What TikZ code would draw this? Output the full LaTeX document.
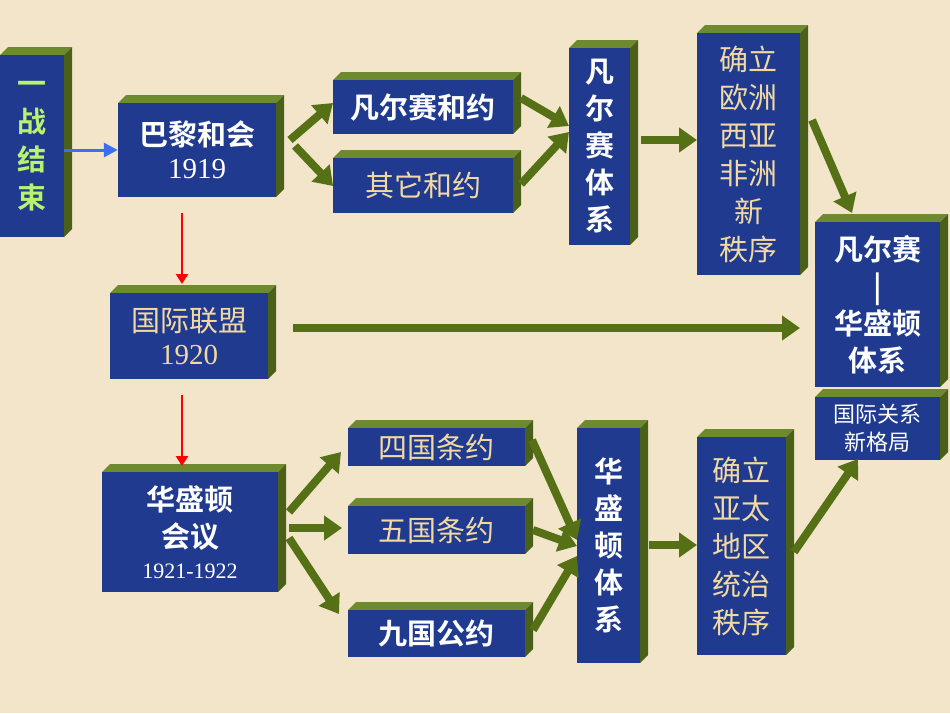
\documentclass[tikz,border=0pt]{standalone}
\usepackage{fontspec}
\newfontfamily\cjk{Noto Sans CJK SC}
\newfontfamily\cjkb{Noto Sans CJK SC}[BoldFont={* Bold}]
\newfontfamily\num{Liberation Serif}
\usetikzlibrary{arrows.meta}
\definecolor{bg}{HTML}{F2E5CA}
\definecolor{bl}{HTML}{1F3A8F}
\definecolor{tg}{HTML}{6E8A2E}
\definecolor{sg}{HTML}{4A5F18}
\definecolor{ga}{HTML}{557015}
\definecolor{tan}{HTML}{F2D9A2}
\definecolor{lg}{HTML}{B9F26E}
\tikzset{x=1pt,y=-1pt,
 box/.style={fill=bl,inner sep=0pt,align=center},
 wt/.style={text=white,font=\cjkb\bfseries\fontsize{29}{37}\selectfont},
 tt/.style={text=tan,font=\cjk\fontsize{29}{37}\selectfont},
 garr/.style={draw=ga,line width=8pt,-{Triangle[length=18pt,width=24pt]}},
 rarr/.style={draw=red,line width=2.5pt,-{Triangle[length=10pt,width=12pt]}},
 barr/.style={draw={rgb,255:red,60;green,110;blue,240},line width=3pt,-{Triangle[length=14pt,width=14pt]}}}
\newcommand\bx[7]{%
 \fill[tg] (#2,#3) -- (#2+8,#3-8) -- (#4+8,#3-8) -- (#4,#3) -- cycle;
 \fill[sg] (#4,#3) -- (#4+8,#3-8) -- (#4+8,#5-8) -- (#4,#5) -- cycle;
 \node[box,#6,minimum width=#4-#2,minimum height=#5-#3] (#1) at ({(#2+#4)/2},{(#3+#5)/2}) {#7};}
\begin{document}
\begin{tikzpicture}
\useasboundingbox (0,0) rectangle (950,713);
\fill[bg] (0,0) rectangle (950,713);
\bx{yz}{0}{55}{64}{237}{text=lg,font=\cjkb\bfseries\fontsize{29}{38}\selectfont}{一\\战\\结\\束}
\bx{bl}{118}{103}{276}{197}{wt}{巴黎和会\\[-4pt]{\num\mdseries\fontsize{29}{30}\selectfont 1919}}
\bx{fh}{333}{80}{513}{134}{wt}{凡尔赛和约}
\bx{qt}{333}{158}{513}{213}{tt}{其它和约}
\bx{ft}{569}{48}{630}{245}{wt}{凡\\尔\\赛\\体\\系}
\bx{ql}{697}{33}{800}{275}{tt,font=\cjk\fontsize{29}{38}\selectfont}{确立\\欧洲\\西亚\\非洲\\新\\秩序}
\bx{fw}{815}{222}{940}{387}{wt}{凡尔赛\\|\\华盛顿\\体系}
\bx{gj}{815}{397}{940}{460}{text=white,font=\cjk\fontsize{22}{28}\selectfont}{国际关系\\新格局}
\bx{gl}{110}{293}{268}{379}{tt}{国际联盟\\[-4pt]{\num\fontsize{29}{30}\selectfont 1920}}
\bx{hy}{102}{472}{278}{592}{wt}{华盛顿\\会议\\[-6pt]{\num\mdseries\fontsize{22}{24}\selectfont 1921-1922}}
\bx{sg}{348}{428}{525}{466}{tt}{四国条约}
\bx{wg}{348}{506}{525}{554}{tt}{五国条约}
\bx{jg}{348}{610}{525}{657}{wt}{九国公约}
\bx{ht}{577}{428}{640}{663}{wt}{华\\盛\\顿\\体\\系}
\bx{qy}{697}{437}{786}{655}{tt,font=\cjk\fontsize{29}{38}\selectfont}{确立\\亚太\\地区\\统治\\秩序}
\draw[barr] (yz.east|-0,150) -- (bl.west|-0,150);
\draw[rarr] (182,213) -- (182,284);
\draw[rarr] (182,395) -- (182,466);
\draw[garr] (290,140) -- (333,103);
\draw[garr] (295,146) -- (333,186);
\draw[garr] (521,98) -- (569,126);
\draw[garr] (521,184) -- (569,132);
\draw[garr] (641,140) -- (697,140);
\draw[garr] (812,120) -- (852,213);
\draw[garr] (293,328) -- (800,328);
\draw[garr] (289,512) -- (341,452);
\draw[garr] (289,528) -- (342,528);
\draw[garr] (289,538) -- (339,614);
\draw[garr] (532,440) -- (577,540);
\draw[garr] (533,530) -- (577,546);
\draw[garr] (533,630) -- (577,556);
\draw[garr] (649,545) -- (697,545);
\draw[garr] (794,552) -- (858,459);
\end{tikzpicture}
\end{document}
